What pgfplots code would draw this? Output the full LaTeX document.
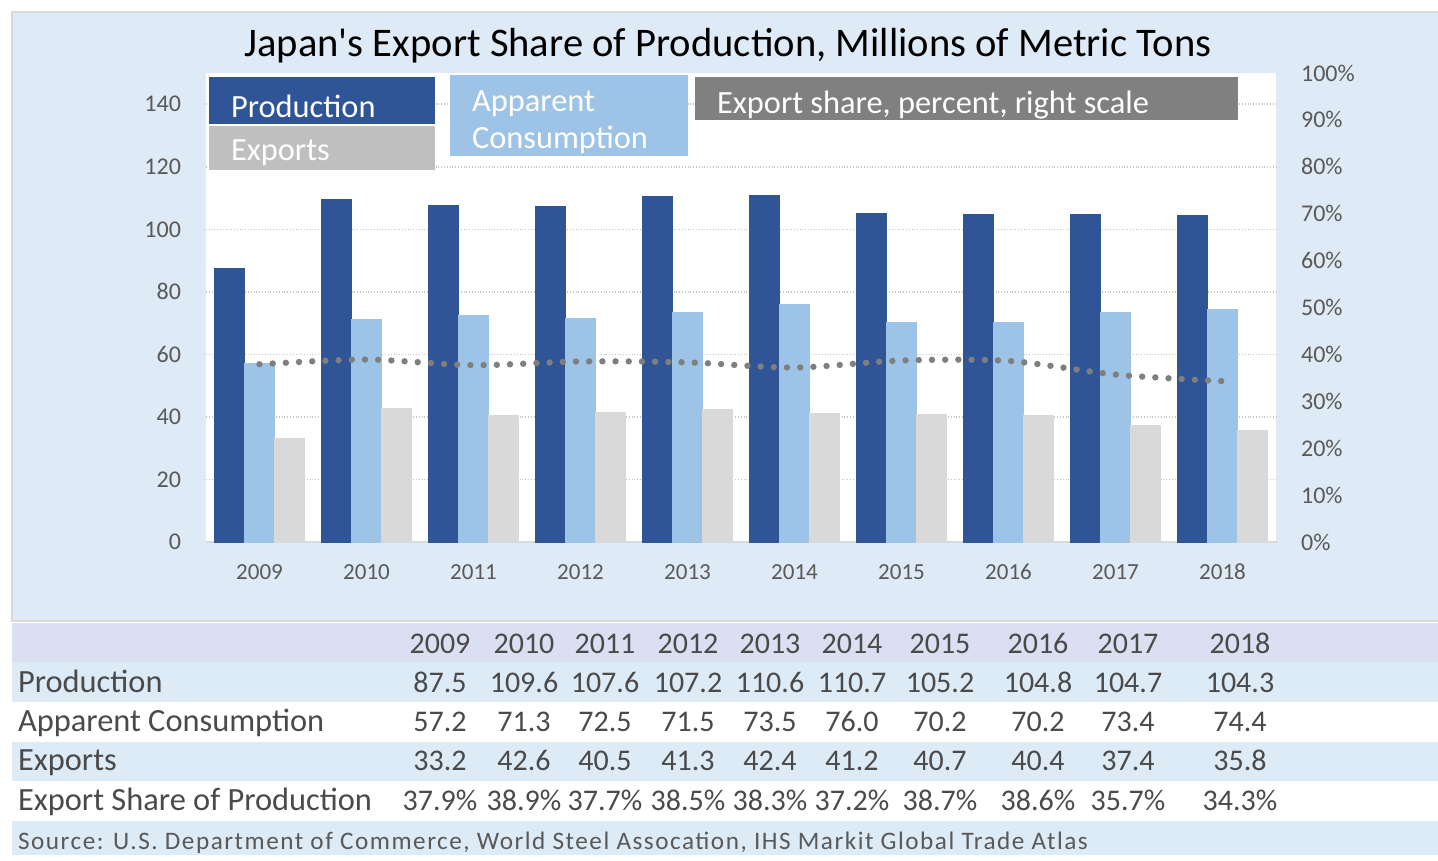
\documentclass[border=0pt]{standalone}
\usepackage{pgfplots}
\pgfplotsset{compat=1.18}
\usepackage{fontspec}
\setmainfont{Carlito}
\definecolor{bgblue}{HTML}{DEEAF6}
\definecolor{hdr}{HTML}{DAE0F2}
\definecolor{rowblue}{HTML}{DDEBF7}
\definecolor{prod}{HTML}{2F5597}
\definecolor{cons}{HTML}{9DC3E6}
\definecolor{expbar}{HTML}{D9D9D9}
\definecolor{expbox}{HTML}{BFBFBF}
\definecolor{sharebox}{HTML}{808080}
\definecolor{linegray}{HTML}{7F7F7F}
\definecolor{ticktxt}{HTML}{595959}
\definecolor{tabtxt}{HTML}{4A4A4A}
\definecolor{bordergray}{HTML}{D9D9D9}
\begin{document}
\begin{tikzpicture}
\begin{scope}[x=0.5pt,y=-0.5pt,shift={(0,427.5pt)}]
\path[use as bounding box] (0,0) rectangle (1438,855);
\fill[white] (0,0) rectangle (1438,855);
\filldraw[fill=bgblue, draw=bordergray, line width=1.2pt] (12,12) rectangle (1450,621);
\fill[hdr] (12,623) rectangle (1438,662);
\fill[rowblue] (12,662) rectangle (1438,702);
\fill[white] (12,702) rectangle (1438,742);
\fill[rowblue] (12,742) rectangle (1438,781);
\fill[white] (12,781) rectangle (1438,821);
\fill[rowblue] (12,821) rectangle (1438,855);
\end{scope}

\begin{axis}[
  at={(103pt,156.5pt)}, anchor=south west,
  width=535pt, height=234.5pt, scale only axis,
  xmin=-0.5, xmax=9.5, ymin=0, ymax=150,
  axis background/.style={fill=white},
  ybar=0pt, bar width=15pt,
  axis x line*=bottom, axis y line*=left,
  x axis line style={draw=bordergray, line width=1.2pt, -},
  y axis line style={draw=none},
  xtick={0,...,9},
  xticklabels={2009,2010,2011,2012,2013,2014,2015,2016,2017,2018},
  ytick={0,20,...,140},
  major tick length=0pt,
  ymajorgrids, grid style={densely dotted, draw=gray!45, line width=0.8pt},
  /pgf/number format/assume math mode=true,
  tick label style={font=\fontsize{12}{14}\selectfont, text=ticktxt},
  xticklabel style={font=\fontsize{11.5}{14}\selectfont, yshift=-7pt, text height=8pt, text depth=0pt},
  yticklabel style={xshift=-9pt},
]
\addplot[fill=prod, draw=prod] coordinates {(0,87.5) (1,109.6) (2,107.6) (3,107.2) (4,110.6) (5,110.7) (6,105.2) (7,104.8) (8,104.7) (9,104.3)};
\addplot[fill=cons, draw=cons] coordinates {(0,57.2) (1,71.3) (2,72.5) (3,71.5) (4,73.5) (5,76.0) (6,70.2) (7,70.2) (8,73.4) (9,74.4)};
\addplot[fill=expbar, draw=expbar] coordinates {(0,33.2) (1,42.6) (2,40.5) (3,41.3) (4,42.4) (5,41.2) (6,40.7) (7,40.4) (8,37.4) (9,35.8)};
\end{axis}

\begin{axis}[
  at={(103pt,156.5pt)}, anchor=south west,
  width=535pt, height=234.5pt, scale only axis,
  xmin=-0.5, xmax=9.5, ymin=0, ymax=100,
  axis x line=none, axis y line*=right,
  y axis line style={draw=none},
  ytick={0,10,...,100},
  yticklabel={\pgfmathprintnumber{\tick}\%},
  major tick length=0pt,
  /pgf/number format/assume math mode=true,
  tick label style={font=\fontsize{12}{14}\selectfont, text=ticktxt},
  yticklabel style={xshift=9pt},
]
\addplot[smooth, draw=linegray, line width=3.2pt, line cap=round, dash pattern=on 0pt off 6.6pt] coordinates {(0,37.9) (1,38.9) (2,37.7) (3,38.5) (4,38.3) (5,37.2) (6,38.7) (7,38.6) (8,35.7) (9,34.3)};
\end{axis}

\begin{scope}[x=0.5pt,y=-0.5pt,shift={(0,427.5pt)}]
\node[font=\fontsize{20.3}{23}\selectfont] at (728,46) {Japan\textquotesingle s Export Share of Production, Millions of Metric Tons};
% legend boxes
\fill[prod] (209,77) rectangle (435,124);
\fill[expbox] (209,125.5) rectangle (435,170);
\fill[cons] (450,75) rectangle (688,156);
\fill[sharebox] (695,77) rectangle (1238,120);
\begin{scope}[every node/.style={anchor=west, text=white, font=\fontsize{16.2}{18}\selectfont}]
\node at (224,106) {Production};
\node at (224,153) {Exports};
\node at (465,104) {Apparent};
\node at (465,140) {Consumption};
\node at (710,105) {Export share, percent, right scale};
\end{scope}
% table
\begin{scope}[every node/.style={text=tabtxt, font=\fontsize{15}{18}\selectfont, text height=10.5pt, text depth=3pt}]
\node[anchor=west, font=\fontsize{16.2}{18}\selectfont] at (11,685) {Production};
\node[anchor=west, font=\fontsize{16.2}{18}\selectfont] at (11,724) {Apparent Consumption};
\node[anchor=west, font=\fontsize{16.2}{18}\selectfont] at (11,763) {Exports};
\node[anchor=west, font=\fontsize{16.2}{18}\selectfont] at (11,803) {Export Share of Production};
\foreach \x/\a/\b/\c/\d/\e in {
  440/2009/87.5/57.2/33.2/37.9,
  524/2010/109.6/71.3/42.6/38.9,
  605/2011/107.6/72.5/40.5/37.7,
  688/2012/107.2/71.5/41.3/38.5,
  770/2013/110.6/73.5/42.4/38.3,
  852/2014/110.7/76.0/41.2/37.2,
  940/2015/105.2/70.2/40.7/38.7,
  1038/2016/104.8/70.2/40.4/38.6,
  1128/2017/104.7/73.4/37.4/35.7,
  1240/2018/104.3/74.4/35.8/34.3}{
  \node at (\x,646) {\a};
  \node at (\x,685) {\b};
  \node at (\x,724) {\c};
  \node at (\x,763) {\d};
  \node at (\x,803) {\e\%};
}
\end{scope}
\node[anchor=west, text=ticktxt, font=\fontsize{12.6}{14}\selectfont\addfontfeature{LetterSpace=6}] at (11,843) {Source: U.S. Department of Commerce, World Steel Assocation, IHS Markit Global Trade Atlas};
\end{scope}
\end{tikzpicture}
\end{document}
